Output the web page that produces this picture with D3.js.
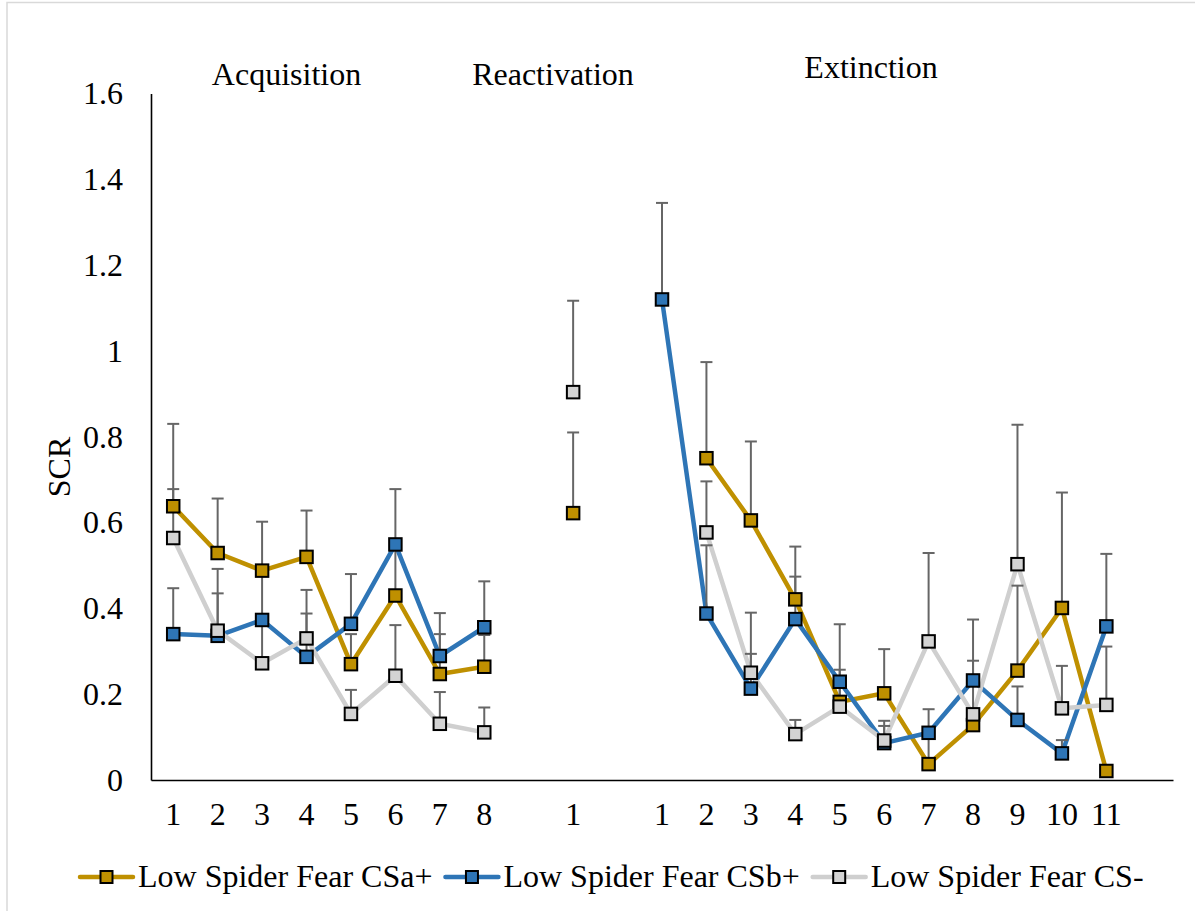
<!DOCTYPE html>
<html>
<head>
<meta charset="utf-8">
<script src="https://cdn.jsdelivr.net/npm/d3@7"></script>
<style>
  html, body { margin: 0; padding: 0; background: #fff; }
  svg { display: block; }
</style>
</head>
<body>
<svg id="chart" width="1195" height="911"></svg>
<script>
// ---- Data ----
const tickLabels = ["1","2","3","4","5","6","7","8","","1","","1","2","3","4","5","6","7","8","9","10","11",""];
const phaseTitles = ["Acquisition", "Reactivation", "Extinction"];
const seriesNames = ["Low Spider Fear CSa+", "Low Spider Fear CSb+", "Low Spider Fear CS-"];
const yTicks = [0, 0.2, 0.4, 0.6, 0.8, 1, 1.2, 1.4, 1.6];

const csaValues = [0.638,0.529,0.488,0.520,0.270,0.430,0.247,0.264, null, 0.622, null,
                   null,0.750,0.605,0.421,0.182,0.202,0.037,0.128,0.255,0.401,0.021, null];
const csaErrors = [0.192,0.127,0.114,0.108,0.070,0.120,0.093,0.074, null, 0.188, null,
                   null,0.224,0.184,0.123,0.181,0.103,0.073,0.025,0.198,0.269,0.010, null];

const csbValues = [0.340,0.336,0.373,0.287,0.364,0.549,0.289,0.356, null, null, null,
                   1.120,0.388,0.213,0.375,0.229,0.086,0.110,0.232,0.140,0.062,0.358, null];
const csbErrors = [0.107,0.099,0.115,0.101,0.116,0.129,0.100,0.107, null, null, null,
                   0.225,0.159,0.081,0.099,0.028,0.040,0.055,0.046,0.078,0.031,0.169, null];

const csmValues = [0.564,0.348,0.272,0.330,0.154,0.243,0.131,0.111, null, 0.904, null,
                   null,0.577,0.250,0.107,0.171,0.092,0.323,0.153,0.503,0.167,0.175, null];
const csmErrors = [0.114,0.144,0.100,0.113,0.056,0.118,0.074,0.058, null, 0.213, null,
                   null,0.119,0.140,0.033,0.058,0.046,0.206,0.221,0.325,0.099,0.136, null];

// segments that are joined by lines (index ranges)
const segments = [[0, 7], [11, 21]];

const colors = ["#BF9000", "#2E75B6", "#CFCFCF"];
const markerFills = ["#BF9000", "#2E75B6", "#D3D3D3"];

const series = [
  { name: seriesNames[0], values: csaValues, errors: csaErrors, color: colors[0], fill: markerFills[0] },
  { name: seriesNames[1], values: csbValues, errors: csbErrors, color: colors[1], fill: markerFills[1] },
  { name: seriesNames[2], values: csmValues, errors: csmErrors, color: colors[2], fill: markerFills[2] }
];

const FONT = "'Liberation Serif', 'Times New Roman', serif";

// ---- Layout ----
const svg = d3.select("#chart");
const plotLeft = 151, plotRight = 1173, plotTop = 93.5, plotBottom = 780;

// outer frame
svg.append("rect").attr("x", 7).attr("y", 2.5).attr("width", 1300).attr("height", 1000)
  .attr("fill", "none").attr("stroke", "#d9d9d9").attr("stroke-width", 1.5);

const idx = d3.range(tickLabels.length);
const x = d3.scaleBand().domain(idx).range([plotLeft, plotRight]);
const y = d3.scaleLinear().domain([0, 1.6]).range([plotBottom, plotTop]);
const cx = i => x(i) + x.bandwidth() / 2;

// Y axis
const yAxis = svg.append("g").attr("transform", `translate(${plotLeft},0)`)
  .call(d3.axisLeft(y).tickValues(yTicks).tickFormat(d3.format("~g")).tickSize(0).tickPadding(28));
yAxis.select(".domain").attr("stroke", "#000").attr("stroke-width", 1.6);
yAxis.selectAll("text").style("font-size", "32px").style("font-family", FONT).attr("fill", "#000").attr("dy", "0.32em");

// X axis
const xAxis = svg.append("g").attr("transform", `translate(0,${plotBottom})`)
  .call(d3.axisBottom(x).tickFormat(i => tickLabels[i]).tickSize(0).tickPadding(22));
xAxis.select(".domain").attr("stroke", "#000").attr("stroke-width", 1.6);
xAxis.selectAll("text").style("font-size", "32px").style("font-family", FONT).attr("fill", "#000");

// Y label
svg.append("text").attr("transform", "translate(70,467) rotate(-90)")
  .attr("text-anchor", "middle").style("font-size", "32px").style("font-family", FONT).attr("fill", "#000").text("SCR");

// Phase titles
const titlePos = [[286.5, 85], [553, 85], [871, 78]];
phaseTitles.forEach((t, i) => {
  svg.append("text").attr("x", titlePos[i][0]).attr("y", titlePos[i][1])
    .attr("text-anchor", "middle").style("font-size", "32px").style("font-family", FONT).attr("fill", "#000").text(t);
});

// Lines
const line = d3.line().defined(d => d.v !== null).x(d => cx(d.i)).y(d => y(d.v));
series.forEach(s => {
  segments.forEach(([a, b]) => {
    const pts = d3.range(a, b + 1).map(i => ({ i, v: s.values[i] }));
    svg.append("path").datum(pts).attr("d", line)
      .attr("fill", "none").attr("stroke", s.color).attr("stroke-width", 4.5)
      .attr("stroke-linejoin", "round");
  });
});

// Error bars (upper only)
const eb = svg.append("g").attr("stroke", "#666").attr("stroke-width", 2);
series.forEach(s => {
  s.values.forEach((v, i) => {
    if (v === null || s.errors[i] === null) return;
    const yt = y(v + s.errors[i]);
    eb.append("line").attr("x1", cx(i)).attr("x2", cx(i)).attr("y1", y(v)).attr("y2", yt);
    eb.append("line").attr("x1", cx(i) - 6).attr("x2", cx(i) + 6).attr("y1", yt).attr("y2", yt);
  });
});

// Markers
const ms = 12.5;
series.forEach(s => {
  s.values.forEach((v, i) => {
    if (v === null) return;
    svg.append("rect").attr("x", cx(i) - ms / 2).attr("y", y(v) - ms / 2)
      .attr("width", ms).attr("height", ms)
      .attr("fill", s.fill).attr("stroke", "#000").attr("stroke-width", 2);
  });
});

// Legend
let lx = 80;
const ly = 877;
series.forEach(s => {
  svg.append("line").attr("x1", lx).attr("x2", lx + 53).attr("y1", ly).attr("y2", ly)
    .attr("stroke", s.color).attr("stroke-width", 4.5).attr("stroke-linecap", "round");
  svg.append("rect").attr("x", lx + 26.5 - 6).attr("y", ly - 6).attr("width", 12).attr("height", 12)
    .attr("fill", s.fill).attr("stroke", "#000").attr("stroke-width", 2);
  const t = svg.append("text").attr("x", lx + 58).attr("y", ly + 10)
    .style("font-size", "32px").style("font-family", FONT).attr("fill", "#000").text(s.name);
  lx = lx + 58 + t.node().getComputedTextLength() + 13;
});
</script>
</body>
</html>
